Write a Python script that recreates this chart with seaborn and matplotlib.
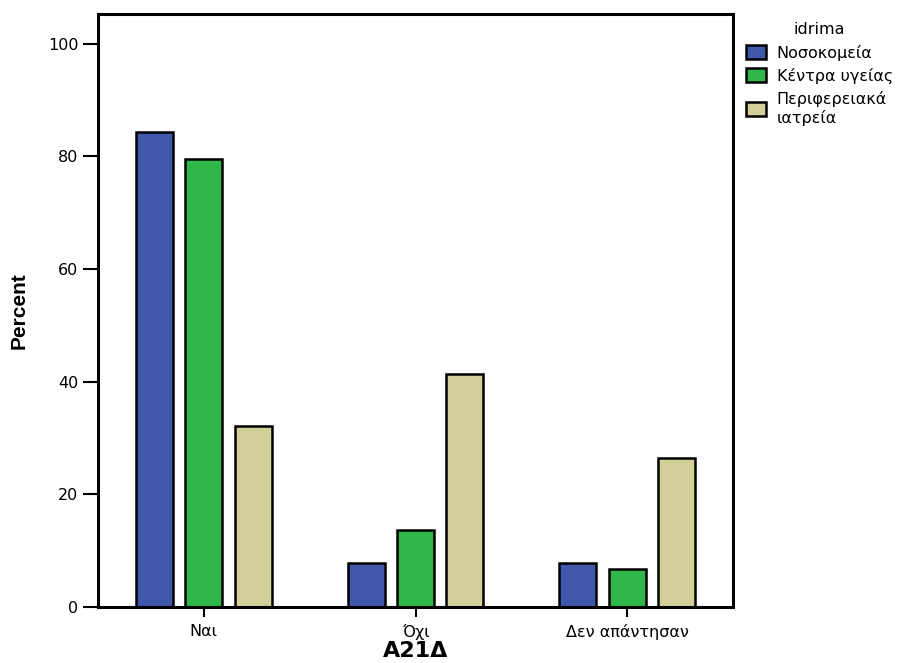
import pandas as pd
import matplotlib.pyplot as plt
import seaborn as sns

# values (percent)
categories = ["Ναι", "Όχι", "Δεν απάντησαν"]
groups = ["Νοσοκομεία", "Κέντρα υγείας", "Περιφερειακά\nιατρεία"]
nosokomeia = [84.4, 7.8, 7.8]
kentra = [79.5, 13.7, 6.8]
periferiaka = [32.1, 41.4, 26.4]
colors = ["#3f58ab", "#30b749", "#d3cf99"]

rows = []
for g, vals in zip(groups, [nosokomeia, kentra, periferiaka]):
    for c, v in zip(categories, vals):
        rows.append({"A21Δ": c, "idrima": g, "Percent": v})
df = pd.DataFrame(rows)

sns.set_style("white")
plt.rcParams["font.family"] = ["DejaVu Sans"]
plt.rcParams["text.color"] = "black"
plt.rcParams["axes.labelcolor"] = "black"
plt.rcParams["xtick.color"] = "black"
plt.rcParams["ytick.color"] = "black"

fig = plt.figure(figsize=(9.1, 6.63), dpi=100)
ax = fig.add_axes([98 / 910, 56 / 663, 635 / 910, 593 / 663])

sns.barplot(data=df, x="A21Δ", y="Percent", hue="idrima", order=categories,
            hue_order=groups, palette=colors, saturation=1, width=0.7, gap=0.25,
            edgecolor="black", linewidth=1.8, ax=ax)

ax.set_xlim(-0.5, 2.5)
ax.set_ylim(0, 105.3)
ax.set_yticks([0, 20, 40, 60, 80, 100])
for s in ax.spines.values():
    s.set_linewidth(2.2)
    s.set_color("black")
ax.tick_params(axis="y", direction="out", length=11, width=1.5, labelsize=11.5, pad=3, left=True)
ax.tick_params(axis="x", direction="out", length=7, width=1.5, labelsize=11.5, pad=5, bottom=True)

ax.set_ylabel("Percent", fontsize=15, fontweight="bold",
              family=["Liberation Sans Narrow", "Liberation Sans"], labelpad=14)
ax.set_xlabel("Α21Δ", fontsize=16, fontweight="bold", labelpad=1)

ax.legend(title="idrima", loc="upper left", bbox_to_anchor=(740 / 910, 1 - 16 / 663),
          bbox_transform=fig.transFigure, frameon=False, fontsize=11.5, title_fontsize=11.5,
          handlelength=1.2, handleheight=1.0, handletextpad=0.7, labelspacing=0.45,
          borderaxespad=0)

fig.savefig("out.png", dpi=100)
